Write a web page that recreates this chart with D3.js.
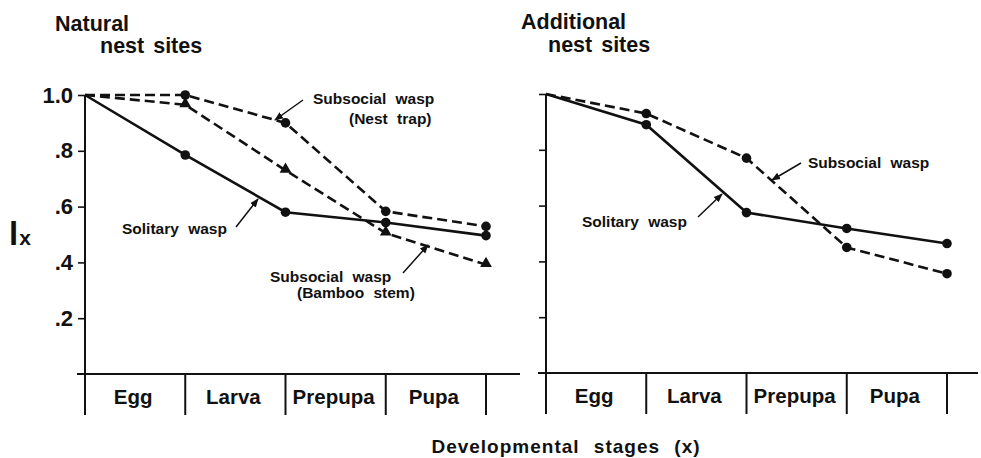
<!DOCTYPE html>
<html>
<head>
<meta charset="utf-8">
<script src="https://cdn.jsdelivr.net/npm/d3@7"></script>
<style>
  body { margin: 0; background: #fff; }
  svg { font-family: "Liberation Sans", Arial, Helvetica, sans-serif; font-weight: bold; }
  text { fill: #111; }
</style>
</head>
<body>
<svg class="chart" width="981" height="458"></svg>
<script>
const stages = ['Egg', 'Larva', 'Prepupa', 'Pupa'];
const yTicks = [0.2, 0.4, 0.6, 0.8, 1.0];

// natural nest sites
const naturalSolitary = [1.0, 0.785, 0.58, 0.543, 0.496];
const naturalNestTrap = [1.0, 1.0, 0.90, 0.583, 0.529];
const naturalBamboo = [1.0, 0.965, 0.73, 0.505, 0.392];

// additional nest sites
const additionalSolitary = [1.0, 0.89, 0.575, 0.518, 0.464];
const additionalSubsocial = [1.0, 0.93, 0.77, 0.45, 0.356];

const svg = d3.select('.chart');

const panelW = 401;
const panelH = 279;
const boxH = 41;

svg.append('defs').append('marker')
    .attr('id', 'arrow')
    .attr('viewBox', '0 0 10 10')
    .attr('refX', 9)
    .attr('refY', 5)
    .attr('markerWidth', 9)
    .attr('markerHeight', 9)
    .attr('markerUnits', 'userSpaceOnUse')
    .attr('orient', 'auto')
    .append('path')
    .attr('d', 'M0,1 L10,5 L0,9 Z')
    .attr('fill', '#111');

const x = d3.scaleLinear().domain([0, stages.length]).range([0, panelW]);
const y = d3.scaleLinear().domain([0, 1]).range([panelH, 0]);
const band = d3.scaleBand().domain(stages).range([0, panelW]);

const line = d3.line()
    .x((d, i) => x(i))
    .y(d => y(d));

const drawPanel = (left, top, series, showLabels, lineRight) => {
    const g = svg.append('g')
        .attr('transform', `translate(${left} ${top})`);

    const yAxis = d3.axisLeft(y)
        .tickValues(yTicks)
        .tickSize(7)
        .tickSizeOuter(0)
        .tickPadding(5)
        .tickFormat(d => showLabels ? (d === 1 ? '1.0' : d3.format('.1f')(d).replace(/^0/, '')) : '');

    const yAxisG = g.append('g').call(yAxis);
    yAxisG.select('.domain').remove();
    yAxisG.selectAll('.tick line').attr('stroke', '#111').attr('stroke-width', 1.6);
    yAxisG.selectAll('.tick text')
        .attr('font-size', 22)
        .attr('font-family', '"Liberation Sans", Arial, sans-serif')
        .attr('font-weight', 'bold')
        .attr('fill', '#111');

    // vertical axis down through the stage boxes
    g.append('line')
        .attr('x1', 0).attr('x2', 0)
        .attr('y1', y(1)).attr('y2', panelH + boxH)
        .attr('stroke', '#111').attr('stroke-width', 2);

    // baseline
    g.append('line')
        .attr('x1', -8).attr('x2', lineRight)
        .attr('y1', panelH).attr('y2', panelH)
        .attr('stroke', '#111').attr('stroke-width', 2);

    // stage dividers
    g.selectAll('.divider')
        .data(d3.range(1, stages.length + 1))
        .enter()
        .append('line')
        .attr('x1', d => x(d)).attr('x2', d => x(d))
        .attr('y1', panelH).attr('y2', panelH + boxH)
        .attr('stroke', '#111').attr('stroke-width', 2);

    g.selectAll('.stage')
        .data(stages)
        .enter()
        .append('text')
        .attr('x', d => band(d) + band.bandwidth() / 2 - 2)
        .attr('y', panelH + 30)
        .attr('text-anchor', 'middle')
        .attr('font-size', 20.5)
        .text(d => d);

    series.forEach(s => {
        g.append('path')
            .datum(s.values)
            .attr('d', line)
            .attr('fill', 'none')
            .attr('stroke', '#111')
            .attr('stroke-width', 2.6)
            .attr('stroke-dasharray', s.dashed ? '10,5' : null);

        const pts = s.values.slice(1);
        if (s.shape === 'triangle') {
            g.selectAll(null)
                .data(pts)
                .enter()
                .append('path')
                .attr('d', d3.symbol(d3.symbolTriangle, 60))
                .attr('transform', (d, i) => `translate(${x(i + 1)} ${y(d) - 1})`)
                .attr('fill', '#111');
        } else {
            g.selectAll(null)
                .data(pts)
                .enter()
                .append('circle')
                .attr('cx', (d, i) => x(i + 1))
                .attr('cy', d => y(d))
                .attr('r', 4.8)
                .attr('fill', '#111');
        }
    });

    return g;
};

drawPanel(85, 95, [
    { values: naturalSolitary, dashed: false, shape: 'circle' },
    { values: naturalNestTrap, dashed: true, shape: 'circle' },
    { values: naturalBamboo, dashed: true, shape: 'triangle' }
], true, 435);

drawPanel(546, 94, [
    { values: additionalSolitary, dashed: false, shape: 'circle' },
    { values: additionalSubsocial, dashed: true, shape: 'circle' }
], false, 432);

// titles
const title = (tx, lines) => {
    lines.forEach(l => {
        svg.append('text')
            .attr('x', tx + l.dx)
            .attr('y', l.y)
            .attr('font-size', 21.5)
            .attr('word-spacing', 3)
            .text(l.text);
    });
};
title(55, [{ text: 'Natural', dx: 0, y: 31 }, { text: 'nest sites', dx: 45, y: 53 }]);
title(521, [{ text: 'Additional', dx: 0, y: 29 }, { text: 'nest sites', dx: 27, y: 52 }]);

// y label
const ylab = svg.append('text')
    .attr('x', 9)
    .attr('y', 245);
ylab.append('tspan').attr('font-size', 33).text('l');
ylab.append('tspan').attr('font-size', 21).attr('dx', 1).text('x');

// x label
svg.append('text')
    .attr('x', 566)
    .attr('y', 453)
    .attr('text-anchor', 'middle')
    .attr('font-size', 19)
    .attr('letter-spacing', 1)
    .attr('word-spacing', 8)
    .text('Developmental stages (x)');

// annotations
const notes = [
    { lines: [['Subsocial wasp', 313, 104], ['(Nest trap)', 349, 124]], tail: [303, 100], head: [275, 120] },
    { lines: [['Solitary wasp', 122, 234]], tail: [236, 227], head: [258, 199] },
    { lines: [['Subsocial wasp', 270, 282], ['(Bamboo stem)', 297, 298]], tail: [403, 273], head: [428, 245] },
    { lines: [['Subsocial wasp', 808, 168]], tail: [801, 163], head: [772, 180] },
    { lines: [['Solitary wasp', 582, 227]], tail: [698, 217], head: [722, 194] }
];

notes.forEach(n => {
    n.lines.forEach(([t, tx, ty]) => {
        svg.append('text')
            .attr('x', tx)
            .attr('y', ty)
            .attr('font-size', 15.5)
            .attr('word-spacing', 5)
            .text(t);
    });
    svg.append('line')
        .attr('x1', n.tail[0]).attr('y1', n.tail[1])
        .attr('x2', n.head[0]).attr('y2', n.head[1])
        .attr('stroke', '#111')
        .attr('stroke-width', 1.5)
        .attr('marker-end', 'url(#arrow)');
});
</script>
</body>
</html>
